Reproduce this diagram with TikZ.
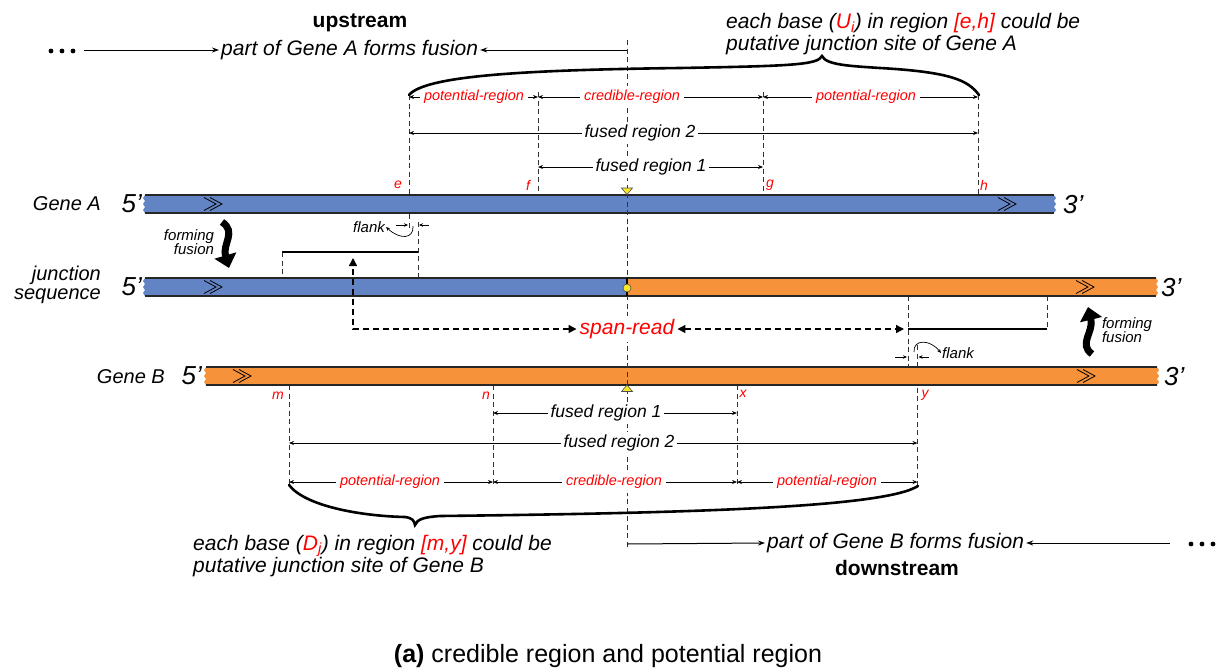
\documentclass[tikz,border=0pt]{standalone}
\usepackage{fontspec}
\setmainfont{Liberation Sans}
\usetikzlibrary{arrows.meta}
\definecolor{geneblue}{RGB}{98,132,196}
\definecolor{geneorange}{RGB}{245,146,58}
\definecolor{ytri}{RGB}{250,232,40}
\newcommand{\genefill}[4]{%
  \fill[#4] (#1,#3) rectangle (#2,#3+18);}
\newcommand{\jagR}[3]{%
  \fill[#3] (#1,#2) -- ++(2,3) -- ++(-2,3) -- ++(2,3) -- ++(-2,3) -- ++(2,3) -- ++(-2,3) -- cycle;}
\newcommand{\jagL}[3]{%
  \fill[#3] (#1,#2) -- ++(-2,3) -- ++(2,3) -- ++(-2,3) -- ++(2,3) -- ++(-2,3) -- ++(2,3) -- cycle;}
\newcommand{\barlines}[3]{%
  \draw[barline] (#1,#3) -- (#2,#3);
  \draw[barline] (#1,#3+18) -- (#2,#3+18);}
\newcommand{\chev}[2]{%
  \draw[line width=0.8pt] (#1,#2-6.5) -- (#1+12,#2) -- (#1,#2+6.5);
  \draw[line width=0.8pt] (#1+6,#2-6.5) -- (#1+18,#2) -- (#1+6,#2+6.5);}
\begin{document}
\begin{tikzpicture}[x=1pt,y=-1pt,
  vd/.style={dash pattern=on 5pt off 3.5pt, line width=0.8pt, black!80},
  dimline/.style={line width=0.8pt, {Stealth[length=5pt,width=4pt]}-{Stealth[length=5pt,width=4pt]}},
  redlab/.style={font=\fontsize{14.5}{16}\selectfont\itshape, text=red, fill=white, inner sep=4pt},
  fuselab/.style={font=\fontsize{17.5}{19}\selectfont\itshape, fill=white, inner sep=3pt},
  ptlab/.style={font=\fontsize{14}{16}\selectfont\itshape, text=red, inner sep=1pt},
  bigit/.style={font=\fontsize{21}{22}\selectfont\itshape, inner sep=2pt},
  boldlab/.style={font=\fontsize{21}{23}\selectfont\bfseries, inner sep=1pt},
  genelab/.style={font=\fontsize{20}{21}\selectfont\itshape, inner sep=1pt, align=right},
  prime/.style={font=\fontsize{26}{28}\selectfont\itshape, inner sep=1pt},
  smallit/.style={font=\fontsize{15}{15}\selectfont\itshape, inner sep=1pt},
  barline/.style={line width=1.6pt, black!85},
  readline/.style={line width=2.6pt},
  spand/.style={dash pattern=on 6pt off 4pt, line width=1.4pt},
  thinarrow/.style={line width=1pt, -{Stealth[length=7pt,width=5pt]}},
  flankarrow/.style={line width=0.7pt, -{Stealth[length=4pt,width=3.5pt]}},
  fatarrow/.style={line width=7pt, -{Triangle[length=13pt,width=22pt]}},
]
\useasboundingbox (0,0) rectangle (1216,670);

% ---------- dashed vertical guides (behind bars)
\draw[vd] (409,95) -- (409,231);
\draw[vd] (418,222) -- (418,278);
\draw[vd] (538,92) -- (538,195);
\draw[vd] (763,92) -- (763,195);
\draw[vd] (978,95) -- (978,195);
\draw[vd] (282,252) -- (282,278);
\draw[vd] (908,296) -- (908,367);
\draw[vd] (1047,296) -- (1047,329);
\draw[vd] (917.5,345) -- (917.5,488);
\draw[vd] (289,385) -- (289,486);
\draw[vd] (493,385) -- (493,486);
\draw[vd] (737,385) -- (737,486);

% ---------- gene bars
% Gene A
\genefill{145}{1054}{195}{geneblue}
\jagL{145}{195}{geneblue}
\jagR{1054}{195}{geneblue}
\barlines{145}{1054}{195}
% junction
\genefill{145}{627}{278}{geneblue}
\genefill{627}{1156}{278}{geneorange}
\jagL{145}{278}{geneblue}
\jagR{1156}{278}{geneorange}
\barlines{145}{1156}{278}
% Gene B
\genefill{206}{1157}{367}{geneorange}
\jagL{206}{367}{geneorange}
\jagR{1157}{367}{geneorange}
\barlines{206}{1157}{367}

\chev{204}{204}
\chev{998}{204}
\chev{204}{287}
\chev{1076}{287}
\chev{233}{376}
\chev{1077}{376}

% central junction line
\draw[vd] (627,40) -- (627,548);
\draw[line width=1.2pt] (627,278) -- (627,296);
\fill[ytri, draw=black!70, line width=0.6pt] (627,288) circle (4);
\fill[ytri, draw=black!70, line width=0.6pt] (621.5,188) -- (632.5,188) -- (627,194.5) -- cycle;
\fill[ytri, draw=black!70, line width=0.6pt] (621.5,391.5) -- (632.5,391.5) -- (627,385) -- cycle;

% ---------- top dimension rows
\draw[dimline] (409,97) -- (538,97);
\draw[dimline] (538,97) -- (763,97);
\draw[dimline] (763,97) -- (978,97);
\node[redlab] (tpot1) at (474,97) {potential-region};
\node[redlab] (tcred) at (632,97) {credible-region};
\node[redlab] (tpot2) at (866,97) {potential-region};
\draw[dimline] (409,133) -- (978,133);
\node[fuselab] (tfr2) at (640,133) {fused region 2};
\draw[dimline] (538,167) -- (763,167);
\node[fuselab] (tfr1) at (651,167) {fused region 1};

\node[ptlab] (le) at (398,185) {e};
\node[ptlab] (lf) at (528,185) {f};
\node[ptlab] (lg) at (770,185) {g};
\node[ptlab] (lh) at (984,185) {h};

% ---------- bottom dimension rows
\draw[dimline] (493,413) -- (737,413);
\node[fuselab] (bfr1) at (606,413) {fused region 1};
\draw[dimline] (289,443) -- (917.5,443);
\node[fuselab] (bfr2) at (619,443) {fused region 2};
\draw[dimline] (289,482) -- (493,482);
\draw[dimline] (493,482) -- (737,482);
\draw[dimline] (737,482) -- (917.5,482);
\node[redlab] (bpot1) at (390,482) {potential-region};
\node[redlab] (bcred) at (614,482) {credible-region};
\node[redlab] (bpot2) at (827,482) {potential-region};

\node[ptlab] (lm) at (278,396) {m};
\node[ptlab] (ln) at (486,396) {n};
\node[ptlab] (lx) at (743,394) {x};
\node[ptlab] (ly) at (925,395) {y};

% ---------- braces
\draw[line width=2.6pt, line cap=round]
  (409,95) .. controls (425,76) and (520,70) .. (680,68)
  .. controls (790,66) and (818,65) .. (822,56)
  .. controls (826,65) and (850,66) .. (880,68)
  .. controls (950,72) and (968,80) .. (979,95);
\draw[line width=2.6pt, line cap=round]
  (289,485) .. controls (305,506) and (360,516) .. (405,517)
  .. controls (412,518) and (414,520) .. (415,525)
  .. controls (417,519) and (425,517) .. (440,516)
  .. controls (700,513) and (885,507) .. (918,486);

% ---------- reads
\draw[readline] (282,252) -- (418,252);
\draw[readline] (908,329) -- (1047,329);
\node[bigit, text=red, fill=white, inner sep=3pt] (span) at (627,329) {span-read};
\draw[spand, {Triangle[length=8pt,width=8pt]}-{Triangle[length=8pt,width=8pt]}]
  (span.west) -- (353,329) -- (353,258);
\draw[spand, {Triangle[length=8pt,width=8pt]}-{Triangle[length=8pt,width=8pt]}]
  (span.east) -- (904,329);

% ---------- flanks
\node[smallit] (flA) at (369,227) {flank};
\draw[flankarrow] (396,225) -- (408,225);
\draw[flankarrow] (429,225) -- (419,225);
\draw[flankarrow] (413,226) .. controls (414,239) and (400,240) .. (flA.east);
\node[smallit] (flB) at (958,353) {flank};
\draw[flankarrow] (895,357) -- (907,357);
\draw[flankarrow] (929,357) -- (918.5,357);
\draw[flankarrow] (914,352) .. controls (913,339) and (930,339) .. (flB.west);

% ---------- forming fusion
\node[smallit, align=right, font=\fontsize{15}{14}\selectfont\itshape] (ffA) at (189,242) {forming\\fusion};
\draw[fatarrow] (222,222) .. controls (237,232) and (222,244) .. (229,268);
\node[smallit, align=left, font=\fontsize{15}{14}\selectfont\itshape] (ffB) at (1127,330) {forming\\fusion};
\draw[fatarrow] (1092,354) .. controls (1078,344) and (1094,332) .. (1088,307);

% ---------- gene labels
\node[genelab, anchor=east] (gA) at (102,204) {Gene A};
\node[prime, anchor=east] (gA5) at (143,204) {5’};
\node[prime, anchor=west] (gA3) at (1062,205) {3’};
\node[genelab, anchor=east] (jS) at (102,285) {junction\\[-2pt]sequence};
\node[prime, anchor=east] (j5) at (143,287) {5’};
\node[prime, anchor=west] (j3) at (1160,288) {3’};
\node[genelab, anchor=east] (gB) at (166,377) {Gene B};
\node[prime, anchor=east] (gB5) at (203,376) {5’};
\node[prime, anchor=west] (gB3) at (1163,377) {3’};

% ---------- top texts
\node[boldlab] (up) at (360,23) {upstream};
\fill (51,51) circle (2.4) (62,51) circle (2.4) (73,51) circle (2.4);
\coordinate (dotsL) at (84,50);
\node[bigit, anchor=west] (partA) at (219,50) {part of Gene A forms fusion};
\coordinate (topC) at (627,50);
\draw[thinarrow] (dotsL) -- (partA.west);
\draw[thinarrow] (topC) -- (partA.east);
\node[bigit, anchor=west, align=left, font=\fontsize{21}{21.5}\selectfont\itshape] (eachU) at (724,34)
  {each base (\textcolor{red}{U\textsubscript{i}}) in region \textcolor{red}{[e,h]} could be\\putative junction site of Gene A};

% ---------- bottom texts
\node[bigit, anchor=west, align=left, font=\fontsize{21}{21.5}\selectfont\itshape] (eachD) at (191,556)
  {each base (\textcolor{red}{D\textsubscript{j}}) in region \textcolor{red}{[m,y]} could be\\putative junction site of Gene B};
\coordinate (botC) at (627,544);
\node[bigit, anchor=west] (partB) at (765,543) {part of Gene B forms fusion};
\coordinate (dotsR) at (1170,543);
\draw[thinarrow] (botC) -- (partB.west);
\draw[thinarrow] (dotsR) -- (partB.east);
\fill (1191,544) circle (2.4) (1202,544) circle (2.4) (1213,544) circle (2.4);
\node[boldlab] (down) at (897,568) {downstream};

% ---------- caption
\node[font=\fontsize{25}{27}\selectfont] (cap) at (608,656) {\textbf{(a)} credible region and potential region};
\end{tikzpicture}
\end{document}
